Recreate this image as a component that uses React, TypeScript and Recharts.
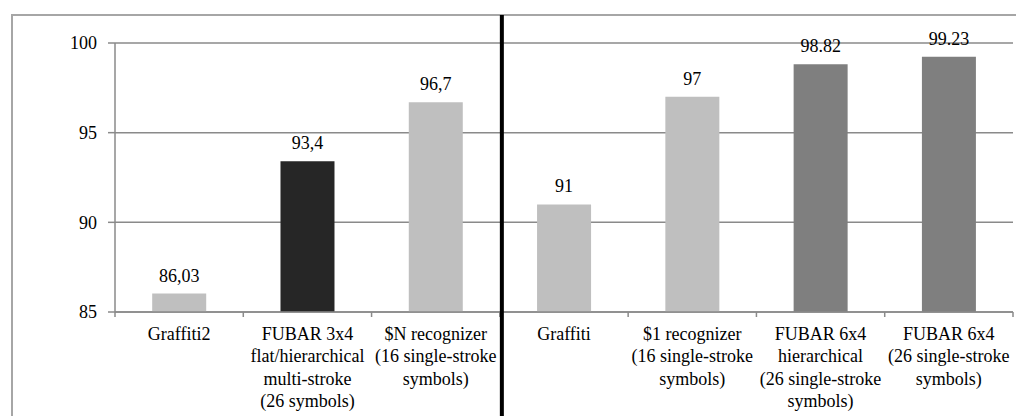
import React from 'react';
import {
  BarChart,
  Bar,
  XAxis,
  YAxis,
  CartesianGrid,
  Cell,
  LabelList,
} from 'recharts';

// ---- data ----
const categories: string[][] = [
  ['Graffiti2'],
  ['FUBAR 3x4', 'flat/hierarchical', 'multi-stroke', '(26 symbols)'],
  ['$N recognizer', '(16 single-stroke', 'symbols)'],
  ['Graffiti'],
  ['$1 recognizer', '(16 single-stroke', 'symbols)'],
  ['FUBAR 6x4', 'hierarchical', '(26 single-stroke', 'symbols)'],
  ['FUBAR 6x4', '(26 single-stroke', 'symbols)'],
];
const values = [86.03, 93.4, 96.7, 91, 97, 98.82, 99.23];
const valueLabels = ['86,03', '93,4', '96,7', '91', '97', '98.82', '99.23'];
const yTicks = [85, 90, 95, 100];
const yDomain: [number, number] = [85, 100];
const dividerBeforeIndex = 3; // thick line drawn before this category

// ---- styles ----
const LIGHT = '#bfbfbf';
const DARK = '#262626';
const MID = '#7f7f7f';
const barColors = [LIGHT, DARK, LIGHT, LIGHT, LIGHT, MID, MID];
const GRID = '#8a8a8a';
const FONT = 'Liberation Serif';
const FS = 18;

const data = categories.map((c, i) => ({
  name: c.join('\n'),
  value: values[i],
  label: valueLabels[i],
}));

const XTick = (props: any) => {
  const { x, y, payload, index } = props;
  const lines = String(payload.value).split('\n');
  const half = typeof payload.offset === 'number' && payload.offset > 0 ? payload.offset : 64.14;
  const isLast = index === categories.length - 1;
  return (
    <g>
      <line x1={x - half} x2={x - half} y1={y} y2={y + 5} stroke={GRID} strokeWidth={1.5} />
      {isLast && (
        <line x1={x + half} x2={x + half} y1={y} y2={y + 5} stroke={GRID} strokeWidth={1.5} />
      )}
      {index === dividerBeforeIndex && (
        <line x1={x - half + 2} x2={x - half + 2} y1={7} y2={420} stroke="#000" strokeWidth={4} />
      )}
      <text x={x} y={y + 28} textAnchor="middle" fill="#000" fontFamily={FONT} fontSize={FS}>
        {lines.map((l, i) => (
          <tspan key={i} x={x} dy={i === 0 ? 0 : 22.3}>
            {l}
          </tspan>
        ))}
      </text>
    </g>
  );
};

export default function App() {
  return (
    <div
      style={{
        position: 'relative',
        width: 1016,
        height: 408,
        overflow: 'hidden',
        background: '#fff',
      }}
    >
      <div
        style={{
          position: 'absolute',
          left: 3,
          top: 6,
          width: 1100,
          height: 500,
          borderLeft: '2px solid #a6a6a6',
          borderTop: '2px solid #a6a6a6',
        }}
      />
      <div style={{ position: 'absolute', left: 0, top: 0 }}>
        <BarChart
          width={1016}
          height={408}
          data={data}
          margin={{ top: 35, right: 11, left: 0, bottom: 4 }}
          barCategoryGap="29%"
        >
          <CartesianGrid vertical={false} stroke={GRID} strokeWidth={1.5} />
          <YAxis
            domain={yDomain}
            ticks={yTicks}
            allowDataOverflow
            width={107}
            tickSize={7}
            tickMargin={11}
            axisLine={{ stroke: GRID, strokeWidth: 1.5 }}
            tickLine={{ stroke: GRID, strokeWidth: 1.5 }}
            tick={{ fontSize: FS, fill: '#000', fontFamily: FONT }}
          />
          <Bar dataKey="value" isAnimationActive={false}>
            {data.map((d, i) => (
              <Cell key={d.name + i} fill={barColors[i]} />
            ))}
            <LabelList
              dataKey="label"
              position="top"
              offset={12}
              fill="#000"
              fontSize={FS}
              fontFamily={FONT}
            />
          </Bar>
          <XAxis
            dataKey="name"
            interval={0}
            height={100}
            tickSize={0}
            tickMargin={0}
            tickLine={false}
            axisLine={{ stroke: GRID, strokeWidth: 1.5 }}
            tick={<XTick />}
          />
        </BarChart>
      </div>
    </div>
  );
}
